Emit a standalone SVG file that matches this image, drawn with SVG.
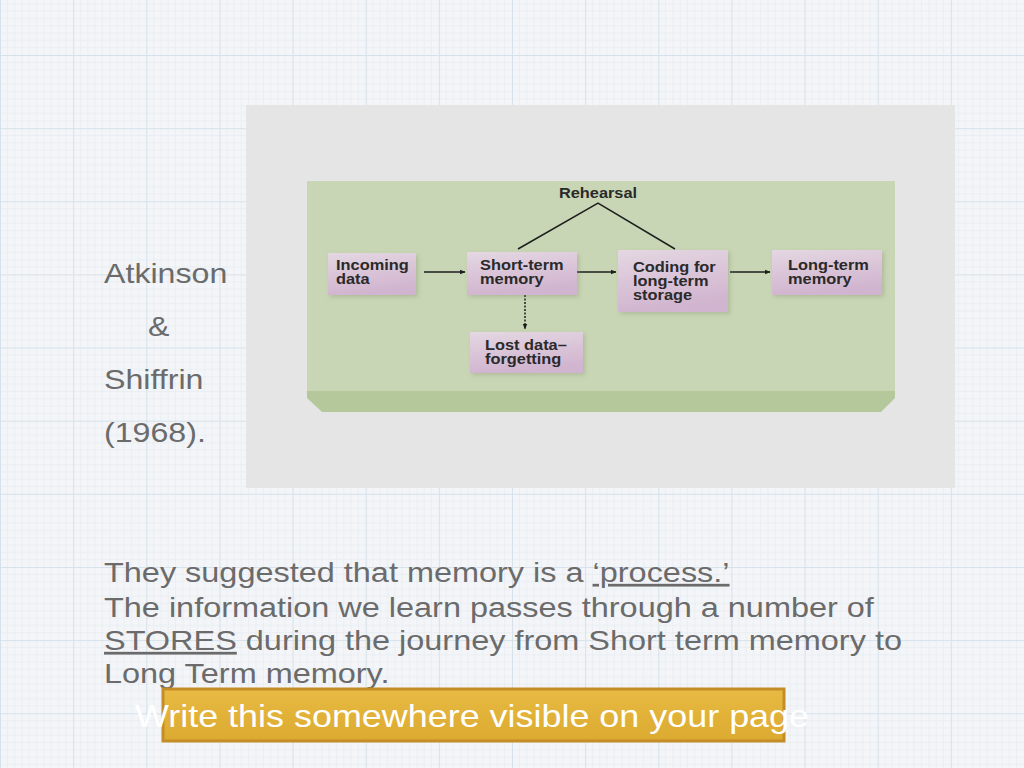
<svg xmlns="http://www.w3.org/2000/svg" width="1024" height="768" viewBox="0 0 1024 768">
  <defs>
    <pattern id="grid" patternUnits="userSpaceOnUse" x="0" y="55" width="73.14" height="73.14">
      <path d="M7.31 0V73.14M14.63 0V73.14M21.94 0V73.14M29.26 0V73.14M36.57 0V73.14M43.88 0V73.14M51.2 0V73.14M58.51 0V73.14M65.83 0V73.14M0 7.31H73.14M0 14.63H73.14M0 21.94H73.14M0 29.26H73.14M0 36.57H73.14M0 43.88H73.14M0 51.2H73.14M0 58.51H73.14M0 65.83H73.14" stroke="#e6ebf0" stroke-width="0.7" fill="none"/>
      <path d="M0.5 0V73.14M0 0.5H73.14" stroke="#d6e2ea" stroke-width="1.1" fill="none"/>
    </pattern>
    <linearGradient id="boxg" x1="0" y1="0" x2="0.25" y2="1">
      <stop offset="0" stop-color="#e4d7e2"/>
      <stop offset="1" stop-color="#d1b4cf"/>
    </linearGradient>
    <linearGradient id="gold" x1="0" y1="0" x2="0" y2="1">
      <stop offset="0" stop-color="#e8bb45"/>
      <stop offset="0.5" stop-color="#e2b238"/>
      <stop offset="1" stop-color="#dcaa30"/>
    </linearGradient>
    <filter id="soft" x="-10%" y="-10%" width="130%" height="130%">
      <feGaussianBlur in="SourceAlpha" stdDeviation="2"/>
      <feOffset dx="2" dy="2" result="b"/>
      <feFlood flood-color="#7d8a66" flood-opacity="0.35"/>
      <feComposite in2="b" operator="in"/>
      <feMerge><feMergeNode/><feMergeNode in="SourceGraphic"/></feMerge>
    </filter>
    <marker id="ah" viewBox="0 0 10 10" refX="9" refY="5" markerWidth="6" markerHeight="6" orient="auto" markerUnits="userSpaceOnUse">
      <path d="M0 1L10 5L0 9Z" fill="#1e1e1e"/>
    </marker>
  </defs>
  <style>
    .lbl { font-family: "Liberation Sans", Arial, sans-serif; font-size: 27.5px; fill: #6b6b6b; }
    .box { fill: url(#boxg); filter: url(#soft); }
    .bt { font-family: "Liberation Sans", Arial, sans-serif; font-size: 14px; font-weight: bold; fill: #2a2a2a; }
    .con { stroke: #1e1e1e; stroke-width: 1.5; fill: none; }
    .gold { font-family: "Liberation Sans", Arial, sans-serif; font-size: 30.7px; fill: #ffffff; }
  </style>

  <rect x="0" y="0" width="1024" height="768" fill="#f3f5f8"/>
  <rect x="0" y="0" width="1024" height="768" fill="url(#grid)"/>

  <rect x="246" y="105" width="709" height="383" fill="#e5e5e5"/>

  <g id="panel">
    <rect x="307" y="181" width="588" height="211" fill="#c9d6b5"/>
    <polygon points="307,391 895,391 895,398 881,412 322,412 307,398" fill="#b5c89c"/>
  </g>

  <g id="labels">
    <text class="lbl" transform="translate(104,283) scale(1.17,1)">Atkinson</text>
    <text class="lbl" transform="translate(148,336) scale(1.17,1)">&amp;</text>
    <text class="lbl" transform="translate(104,389) scale(1.17,1)">Shiffrin</text>
    <text class="lbl" transform="translate(104,442) scale(1.17,1)">(1968).</text>
  </g>

  <g id="connectors">
    <polyline class="con" stroke-width="1.3" points="518,249 598,203 675,249"/>
    <line class="con" x1="424" y1="272" x2="465" y2="272" marker-end="url(#ah)"/>
    <line class="con" x1="577" y1="272" x2="616" y2="272" marker-end="url(#ah)"/>
    <line class="con" x1="730" y1="272" x2="770" y2="272" marker-end="url(#ah)"/>
    <line class="con" x1="525" y1="295" x2="525" y2="329" stroke-width="1.1" stroke-dasharray="2 1.5" marker-end="url(#ah)"/>
  </g>

  <g id="rehearsal">
    <text class="bt" text-anchor="middle" transform="translate(598,198) scale(1.17,1)">Rehearsal</text>
  </g>

  <g id="incoming">
    <rect class="box" x="328" y="253" width="88" height="42"/>
    <text class="bt" transform="translate(336,270) scale(1.17,1)">Incoming</text>
    <text class="bt" transform="translate(336,284) scale(1.17,1)">data</text>
  </g>

  <g id="stm">
    <rect class="box" x="467" y="252" width="110" height="43"/>
    <text class="bt" transform="translate(480,270) scale(1.17,1)">Short-term</text>
    <text class="bt" transform="translate(480,284) scale(1.17,1)">memory</text>
  </g>

  <g id="coding">
    <rect class="box" x="618" y="250" width="110" height="62"/>
    <text class="bt" transform="translate(633,272) scale(1.17,1)">Coding for</text>
    <text class="bt" transform="translate(633,286) scale(1.17,1)">long-term</text>
    <text class="bt" transform="translate(633,300) scale(1.17,1)">storage</text>
  </g>

  <g id="ltm">
    <rect class="box" x="772" y="250" width="110" height="45"/>
    <text class="bt" transform="translate(788,270) scale(1.17,1)">Long-term</text>
    <text class="bt" transform="translate(788,284) scale(1.17,1)">memory</text>
  </g>

  <g id="lost">
    <rect class="box" x="470" y="332" width="113" height="41"/>
    <text class="bt" transform="translate(485,350) scale(1.17,1)">Lost data–</text>
    <text class="bt" transform="translate(485,364) scale(1.17,1)">forgetting</text>
  </g>

  <g id="paragraph">
    <text class="lbl" transform="translate(104,582) scale(1.18,1)">They suggested that memory is a <tspan text-decoration="underline">‘process.’</tspan></text>
    <text class="lbl" transform="translate(104,617) scale(1.18,1)">The information we learn passes through a number of</text>
    <text class="lbl" transform="translate(104,650) scale(1.18,1)"><tspan text-decoration="underline">STORES</tspan> during the journey from Short term memory to</text>
    <text class="lbl" transform="translate(104,683) scale(1.18,1)">Long Term memory.</text>
  </g>

  <g id="note">
    <rect x="163" y="689" width="621" height="52" fill="url(#gold)" stroke="#c58d27" stroke-width="3"/>
    <text class="gold" transform="translate(135,727) scale(1.17,1)">Write this somewhere visible on your page</text>
  </g>
</svg>
